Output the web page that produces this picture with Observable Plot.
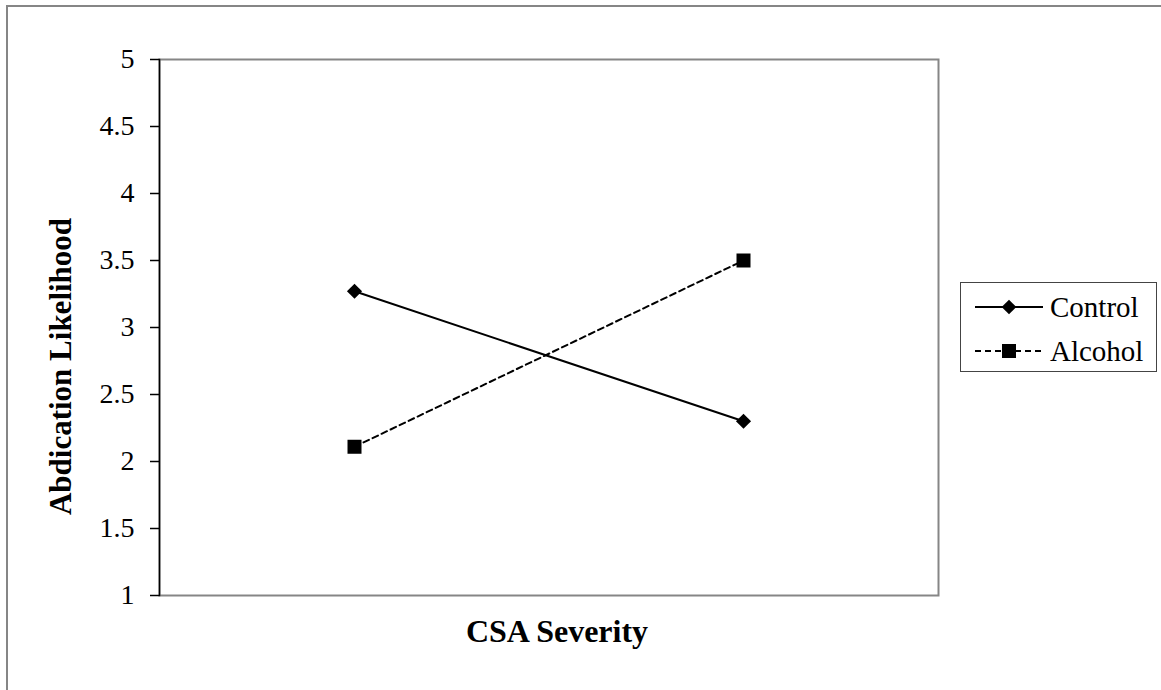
<!DOCTYPE html>
<html>
<head>
<meta charset="utf-8">
<script src="https://cdn.jsdelivr.net/npm/d3@7"></script>
<script src="https://cdn.jsdelivr.net/npm/@observablehq/plot@0.6"></script>
<style>
  html, body { margin: 0; padding: 0; background: #fff; }
  #wrap { position: relative; width: 1161px; height: 690px; overflow: hidden; font-family: "Liberation Serif", "Times New Roman", serif; }
  #border { position: absolute; left: 6px; top: 5px; width: 1200px; height: 800px; border-left: 2px solid #868686; border-top: 2px solid #868686; box-sizing: border-box; }
  #chart { position: absolute; left: 0; top: 0; }
  #legend { position: absolute; left: 960px; top: 282px; width: 197px; height: 90px; border: 1.5px solid #444; box-sizing: border-box; background: #fff; }
  .row { position: absolute; left: 0; height: 40px; display: flex; align-items: center; }
  .row svg { margin-left: 14px; }
  .row span { font-size: 29px; color: #000; margin-left: 7px; line-height: 1; }
</style>
</head>
<body>
<div id="wrap">
  <div id="border"></div>
  <div id="chart"></div>
  <div id="legend"></div>
</div>
<script>
const categories = ["Low CSA", "High CSA"];
const seriesNames = ["Control", "Alcohol"];
const controlValues = [3.27, 2.30];
const alcoholValues = [2.11, 3.50];
const yTicks = [1, 1.5, 2, 2.5, 3, 3.5, 4, 4.5, 5];
const yLabel = "Abdication Likelihood";
const xLabel = "CSA Severity";

const data = [
  ...categories.map((c, i) => ({series: seriesNames[0], cat: c, value: controlValues[i]})),
  ...categories.map((c, i) => ({series: seriesNames[1], cat: c, value: alcoholValues[i]}))
];
const control = data.filter(d => d.series === "Control");
const alcohol = data.filter(d => d.series === "Alcohol");

const serif = "Liberation Serif, Times New Roman, serif";

const chart = Plot.plot({
  width: 1161,
  height: 690,
  marginLeft: 159,
  marginRight: 223,
  marginTop: 59,
  marginBottom: 95,
  style: {fontFamily: serif, background: "transparent", overflow: "visible"},
  x: {type: "point", domain: categories, padding: 0.5, axis: null},
  y: {domain: [1, 5], axis: null},
  marks: [
    Plot.frame({stroke: "#868686", strokeWidth: 2}),
    Plot.frame({anchor: "left", stroke: "#000", strokeWidth: 1.5}),
    Plot.axisY({
      ticks: yTicks,
      tickSize: 9,
      tickPadding: 16,
      fontSize: 28,
      label: null,
      stroke: "#000",
      strokeWidth: 1.5,
      strokeOpacity: 1,
      fill: "#000",
      tickFormat: d => String(d)
    }),
    Plot.line(control, {x: "cat", y: "value", stroke: "#000", strokeWidth: 2}),
    Plot.line(alcohol, {x: "cat", y: "value", stroke: "#000", strokeWidth: 2, strokeDasharray: "6,4"}),
    Plot.dot(control, {x: "cat", y: "value", symbol: "diamond2", r: 6.8, fill: "#000", stroke: "none"}),
    Plot.dot(alcohol, {x: "cat", y: "value", symbol: "square", r: 7.9, fill: "#000", stroke: "none"}),
    Plot.text([yLabel], {frameAnchor: "left", textAnchor: "middle", lineAnchor: "middle", rotate: -90, dx: -98, dy: 39, fontSize: 31, fontWeight: "bold", fill: "#000"}),
    Plot.text([xLabel], {frameAnchor: "bottom", textAnchor: "middle", dx: 8, dy: 36, fontSize: 32, fontWeight: "bold", fill: "#000", lineAnchor: "middle"})
  ]
});
document.getElementById("chart").appendChild(chart);

// Legend
const legend = document.getElementById("legend");
const items = [
  {name: seriesNames[0], dash: null, symbol: d3.symbolDiamond2, size: Math.PI * 6.6 * 6.6},
  {name: seriesNames[1], dash: "6,4", symbol: d3.symbolSquare, size: Math.PI * 7.9 * 7.9}
];
items.forEach((it, i) => {
  const row = document.createElement("div");
  row.className = "row";
  row.style.top = (4 + i * 44) + "px";
  const svg = d3.create("svg").attr("width", 68).attr("height", 30);
  svg.append("line").attr("x1", 0).attr("x2", 68).attr("y1", 15).attr("y2", 15)
    .attr("stroke", "#000").attr("stroke-width", 2).attr("stroke-dasharray", it.dash);
  svg.append("path").attr("d", d3.symbol(it.symbol, it.size)()).attr("transform", "translate(34,15)").attr("fill", "#000");
  row.appendChild(svg.node());
  const span = document.createElement("span");
  span.textContent = it.name;
  row.appendChild(span);
  legend.appendChild(row);
});
</script>
</body>
</html>
